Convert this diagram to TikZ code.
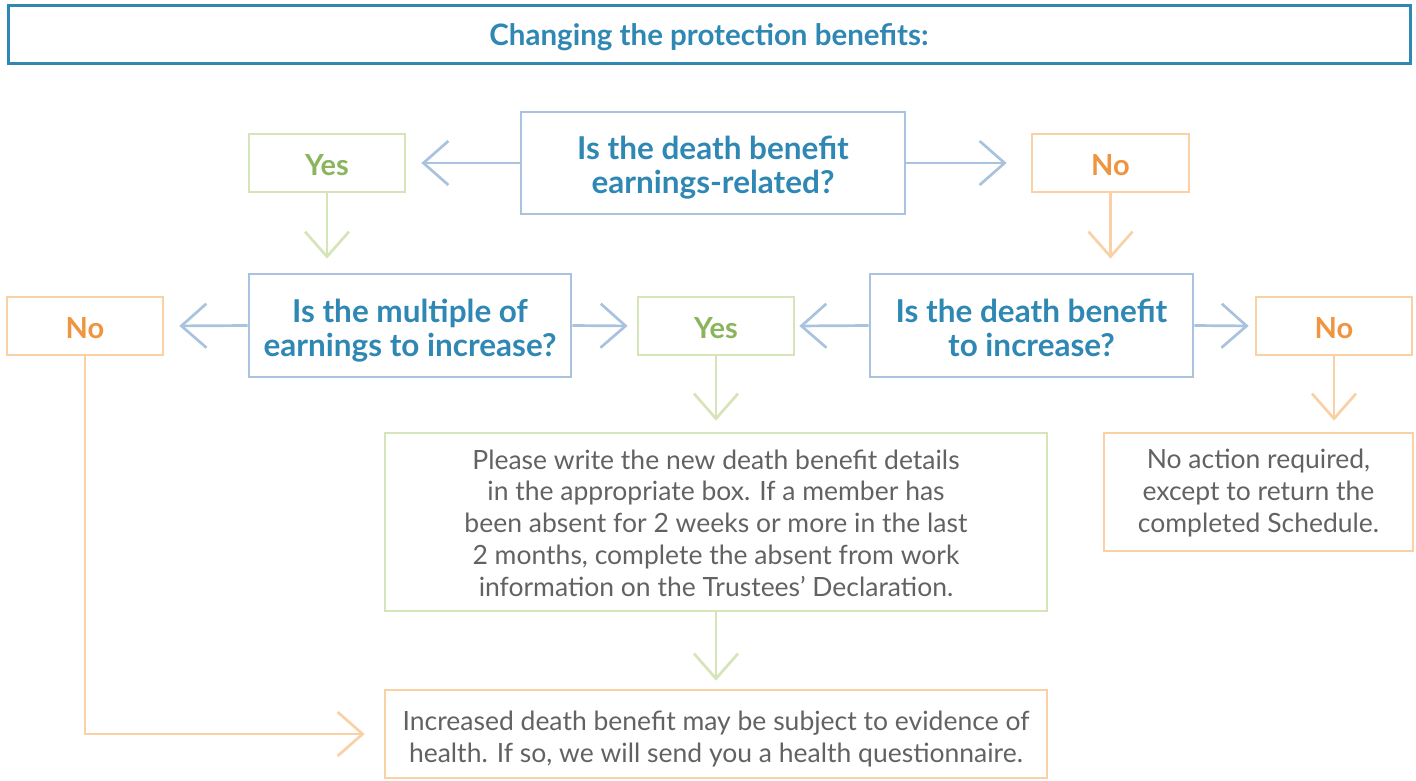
\documentclass[tikz,border=0pt]{standalone}
\usepackage{fontspec}
\setmainfont{Lato}
\usetikzlibrary{arrows.meta}
\definecolor{titleblue}{HTML}{2F87B3}
\definecolor{qborder}{HTML}{A9C3DE}
\definecolor{gborder}{HTML}{D6E4BA}
\definecolor{gtext}{HTML}{8BB55C}
\definecolor{oborder}{HTML}{FAD1A5}
\definecolor{otext}{HTML}{EF9440}
\definecolor{bodygrey}{HTML}{626262}
\tikzset{
  box/.style={draw, line width=2.7pt, inner sep=0pt},
  qbox/.style={box, draw=qborder},
  ynbox/.style={box, minimum width=156pt, minimum height=58pt},
  yesbox/.style={ynbox, draw=gborder},
  nobox/.style={ynbox, draw=oborder},
  txt/.style={inner sep=0pt, align=center},
  qtxt/.style={txt, text=titleblue, font=\fontsize{31.5}{34}\selectfont\bfseries},
  yntxt/.style={txt, font=\fontsize{29}{32}\selectfont\bfseries},
  bodytxt/.style={txt, text=bodygrey, font=\fontsize{26.5}{31.8}\selectfont},
  arr/.style={line width=2.7pt, -{Straight Barb[length=25pt,width=44pt,line width=2.7pt]}},
  qarr/.style={arr, draw=qborder},
  garr/.style={arr, draw=gborder},
  oarr/.style={arr, draw=oborder}
}
\begin{document}
\begin{tikzpicture}[x=1pt,y=-1pt]
\useasboundingbox (0,0) rectangle (1416,780);
% boxes
\node[box, draw=titleblue, line width=3pt, minimum width=1402pt, minimum height=58pt] (title) at (709,34) {};
\node[qbox, minimum width=384pt, minimum height=102pt] (q1) at (713,163) {};
\node[yesbox] (yes1) at (327,163) {};
\node[nobox, minimum width=157pt] (no1) at (1110.5,163) {};
\node[qbox, minimum width=322pt, minimum height=103pt] (q2) at (410,325.5) {};
\node[qbox, minimum width=323pt, minimum height=103pt] (q3) at (1031.5,325.5) {};
\node[nobox] (no2) at (85,326) {};
\node[yesbox] (yes2) at (716,326) {};
\node[nobox] (no3) at (1334,326) {};
\node[box, draw=gborder, minimum width=662pt, minimum height=178pt] (detail) at (716,522) {};
\node[box, draw=oborder, minimum width=309pt, minimum height=118pt] (noact) at (1258.5,492) {};
\node[box, draw=oborder, minimum width=662pt, minimum height=88pt] (health) at (716,734) {};
% texts
\node[txt, text=titleblue, font=\fontsize{29.5}{32}\selectfont\bfseries] (titlet) at ([yshift=-3pt]title.center) {Changing the protection benefits:};
\node[qtxt] (q1t) at ([yshift=-5pt]q1.center) {Is the death benefit\\earnings-related?};
\node[qtxt] (q2t) at ([yshift=-5pt]q2.center) {Is the multiple of\\earnings to increase?};
\node[qtxt] (q3t) at ([yshift=-2pt]q3.center) {Is the death benefit\\to increase?};
\node[yntxt, text=gtext] (yes1t) at ([yshift=-2pt]yes1.center) {Yes};
\node[yntxt, text=otext] (no1t) at ([yshift=-2pt]no1.center) {No};
\node[yntxt, text=otext] (no2t) at ([yshift=-2pt]no2.center) {No};
\node[yntxt, text=gtext] (yes2t) at ([yshift=-2pt]yes2.center) {Yes};
\node[yntxt, text=otext] (no3t) at ([yshift=-2pt]no3.center) {No};
\node[bodytxt] (detailt) at ([yshift=-1pt]detail.center) {Please write the new death benefit details\\in the appropriate box. If a member has\\been absent for 2 weeks or more in the last\\2 months, complete the absent from work\\information on the Trustees' Declaration.};
\node[bodytxt] (noactt) at ([yshift=-1pt]noact.center) {No action required,\\except to return the\\completed Schedule.};
\node[bodytxt] (healtht) at ([yshift=-5pt]health.center) {Increased death benefit may be subject to evidence of\\health. If so, we will send you a health questionnaire.};
% connectors
\draw[qarr, shorten >=15pt] (q1.west) -- (yes1.east);
\draw[qarr, shorten >=24pt] (q1.east) -- (no1.west);
\draw[garr, shorten >=14pt] (yes1.south) -- (yes1.south |- q2.north);
\draw[oarr, shorten >=14pt] (no1.south) -- (no1.south |- q3.north);
\draw[qarr, shorten >=15pt] (q2.west) -- (no2.east);
\draw[qarr, shorten >=9pt] (q2.east) -- (yes2.west);
\draw[qarr, shorten >=4pt] (q3.west) -- (yes2.east);
\draw[qarr, shorten >=6pt] (q3.east) -- (no3.west);
\draw[garr, shorten >=11pt] (yes2.south) -- (detail.north);
\draw[oarr, shorten >=11pt] (no3.south) -- (no3.south |- noact.north);
\draw[garr, shorten >=8pt] (detail.south) -- (health.north);
\draw[oarr, shorten >=19pt] (no2.south) |- (health.west);
\end{tikzpicture}
\end{document}
